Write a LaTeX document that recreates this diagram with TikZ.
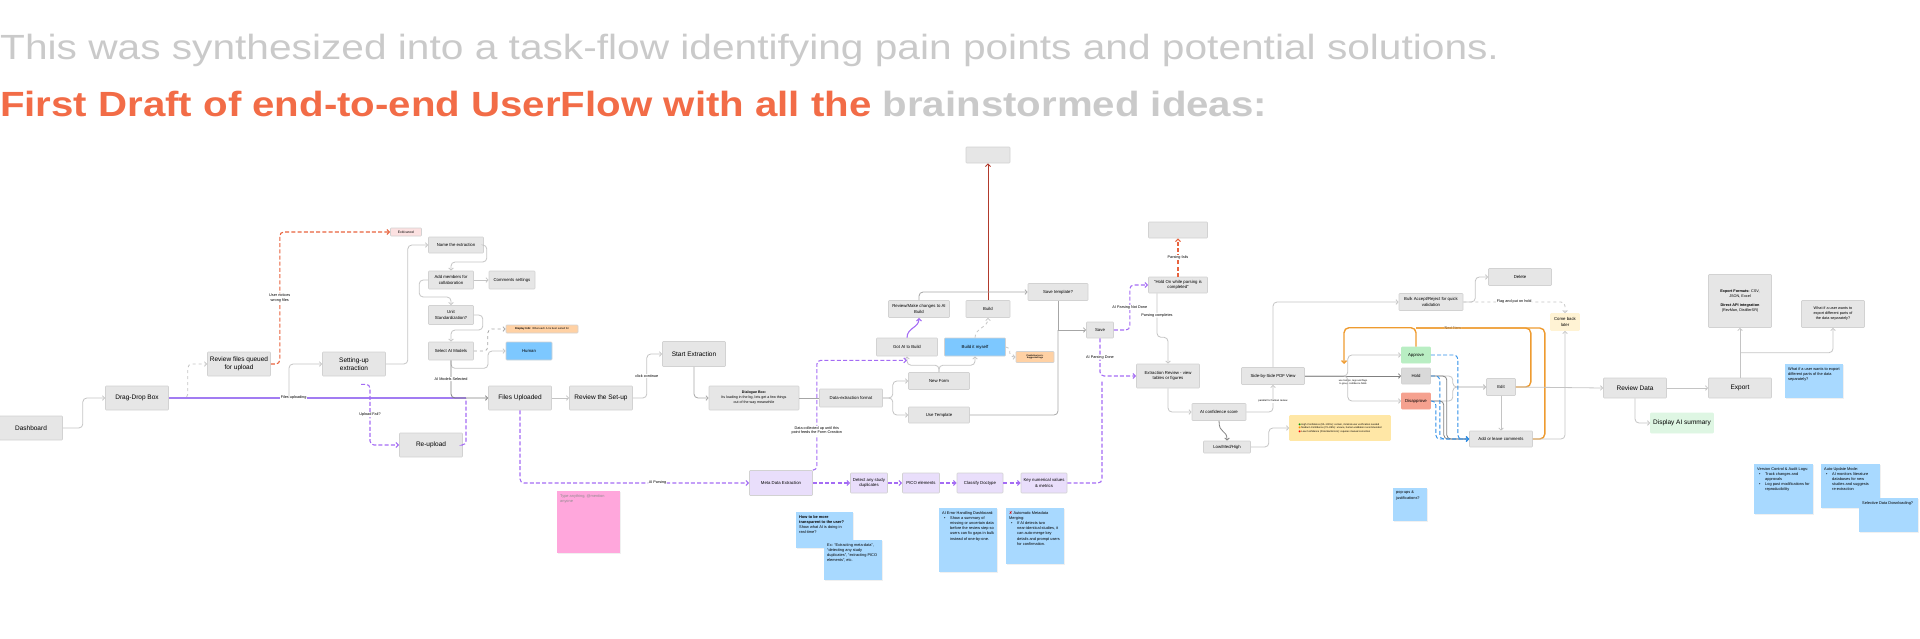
\documentclass[tikz,border=0pt]{standalone}
\usepackage{fontspec}
\usepackage{graphicx}
\setmainfont{Liberation Sans}
\newfontfamily\symbolfont{DejaVu Sans}
\usetikzlibrary{arrows.meta,shadows}

\definecolor{boxgray}{HTML}{E6E6E6}
\definecolor{boxedge}{HTML}{D2D2D2}
\definecolor{wire}{HTML}{C4C4C4}
\definecolor{midwire}{HTML}{A6A6A6}
\definecolor{darkwire}{HTML}{808080}
\definecolor{parse}{HTML}{A46CF4}
\definecolor{uploadpurple}{HTML}{A27CF2}
\definecolor{cancelred}{HTML}{E8633E}
\definecolor{failred}{HTML}{B23A2C}
\definecolor{headorange}{HTML}{F26C47}
\definecolor{headgray}{HTML}{CACACA}
\definecolor{noteblue}{HTML}{A8D9FF}
\definecolor{notepink}{HTML}{FFA7DC}
\definecolor{lavender}{HTML}{E9DEFB}
\definecolor{userblue}{HTML}{7DC8FF}
\definecolor{peach}{HTML}{FFD1A4}
\definecolor{exitpink}{HTML}{FCE1E1}
\definecolor{legendyellow}{HTML}{FFE7A6}
\definecolor{lateryellow}{HTML}{FFF3D4}
\definecolor{okgreen}{HTML}{B9EEC3}
\definecolor{nored}{HTML}{F5A18F}
\definecolor{summarygreen}{HTML}{DEF6E3}
\definecolor{holdgray}{HTML}{D9D9D9}
\definecolor{nextorange}{HTML}{EE9B30}
\definecolor{checkblue}{HTML}{2E8FE8}

\newcommand{\notetext}[3]{\parbox[t][#2][t]{#1}{\raggedright #3}}
\newcommand{\noteitem}[1]{\par\hangindent=8pt\hangafter=1\noindent\hspace*{2pt}\makebox[6pt][l]{\textbullet}#1\par}

\begin{document}
\begin{tikzpicture}[x=1pt,y=-1pt,
  box/.style={draw=boxedge,fill=boxgray,line width=0.6pt,rounded corners=0.8pt,align=center,inner sep=1pt,font=\fontsize{4.3}{5.2}\selectfont},
  sz/.style 2 args={minimum width=#1,minimum height=#2},
  bigbox/.style={box,sz={63pt}{24pt},font=\fontsize{6.5}{8}\selectfont},
  note/.style={anchor=north west,inner sep=3pt,font=\fontsize{3.9}{5.2}\selectfont,drop shadow={opacity=0.12,shadow xshift=0.4pt,shadow yshift=-0.8pt}},
  wirelbl/.style={fill=white,inner sep=0.6pt,align=center,font=\fontsize{3.8}{4.6}\selectfont},
  flow/.style={draw=wire,line width=0.8pt,rounded corners=4pt,-{Straight Barb[length=2.2pt,width=4.5pt]}},
  midflow/.style={flow,draw=midwire},
  darkflow/.style={flow,draw=darkwire},
  parsing/.style={draw=parse,line width=1.1pt,dash pattern=on 4pt off 2.2pt,rounded corners=4pt,-{Straight Barb[length=2.5pt,width=5pt]}},
  cancel/.style={parsing,draw=cancelred},
  recheck/.style={parsing,draw=checkblue,line width=0.9pt},
  nextline/.style={draw=nextorange,line width=1.4pt,rounded corners=5pt}
]
  \useasboundingbox (0,0) rectangle (1920,638);

  % heading
  \node[anchor=base west,inner sep=0pt,text=headgray,font=\fontsize{35}{40}\selectfont] (intro) at (0,59) {\scalebox{1.162}[1]{This was synthesized into a task-flow identifying pain points and potential solutions.}};
  \node[anchor=base west,inner sep=0pt,text=headgray,font=\bfseries\fontsize{35}{40}\selectfont] (heading) at (0,116) {\scalebox{1.149}[1]{\textcolor{headorange}{First Draft of end-to-end UserFlow with all the} brainstormed ideas:}};

  % upload and set-up
  \node[bigbox] (dashboard) at (31,428) {Dashboard};
  \node[bigbox] (dropbox) at (137,398) {Drag-Drop Box};
  \node[bigbox] (queued) at (239,364) {Review files queued\\for upload};
  \node[box,sz={31pt}{8pt},fill=exitpink,font=\fontsize{3.4}{4}\selectfont] (exit) at (406,232) {Exit/cancel};
  \node[bigbox] (setup) at (354,364) {Setting-up\\extraction};
  \node[bigbox] (uploaded) at (520,398) {Files Uploaded};
  \node[bigbox] (reupload) at (431,445) {Re-upload};
  \node[box,sz={55pt}{16pt}] (naming) at (456,245) {Name the extraction};
  \node[box,sz={45pt}{18pt}] (members) at (451,280) {Add members for\\collaboration};
  \node[box,sz={46pt}{18pt}] (comments) at (512,280) {Comments settings};
  \node[box,sz={45pt}{19pt}] (units) at (451,315) {Unit\\Standardization?};
  \node[box,sz={45pt}{18pt}] (models) at (451,351) {Select AI Models};
  \node[box,sz={72pt}{8pt},fill=peach,font=\fontsize{2.7}{3.2}\selectfont] (modelinfo) at (542,329) {\textbf{Display Info:} What each AI is best suited for};
  \node[box,sz={46pt}{18pt},fill=userblue] (human) at (529,351) {Human};
  \node[bigbox] (setreview) at (601,398) {Review the Set-up};
  \node[bigbox,sz={63pt}{25pt}] (start) at (694,354) {Start Extraction};
  \node[box,sz={90pt}{24pt},font=\fontsize{3.6}{5}\selectfont] (dialog) at (754,398) {\textbf{Dialogue Box:}\\Its loading in the bg, lets get a few things\\out of the way meanwhile};

  % form creation
  \node[box,sz={63pt}{18pt}] (format) at (851,398) {Data-extraction format};
  \node[box,sz={61pt}{17pt}] (newform) at (939,381) {New Form};
  \node[box,sz={61pt}{16pt}] (usetpl) at (939,415) {Use Template};
  \node[box,sz={61pt}{18pt}] (gotai) at (907,347) {Got AI to Build};
  \node[box,sz={61pt}{18pt},fill=userblue] (myself) at (975,347) {Build it myself};
  \node[box,sz={61pt}{17pt}] (reviewai) at (919,309) {Review/Make changes to AI\\Build};
  \node[box,sz={44pt}{17pt}] (build) at (988,309) {Build};
  \node[box,sz={44pt}{16pt}] (topbox) at (988,155) {};
  \node[box,sz={38pt}{11pt},fill=peach,font=\bfseries\fontsize{2.2}{2.8}\selectfont] (predict) at (1035,357) {Predictive text +\\Suggested tags};
  \node[box,sz={60pt}{17pt}] (savetpl) at (1058,292) {Save template?};
  \node[box,sz={27pt}{16pt}] (save) at (1100,330) {Save};
  \node[box,sz={59pt}{16pt}] (holdon) at (1178,285) {"Hold On while parsing is\\completed"};
  \node[box,sz={59pt}{16pt}] (failbox) at (1178,230) {};

  % parsing
  \node[box,sz={63pt}{25pt},fill=lavender] (meta) at (781,483) {Meta Data Extraction};
  \node[box,sz={37pt}{20pt},fill=lavender] (detect) at (869,483) {Detect any study\\duplicates};
  \node[box,sz={37pt}{20pt},fill=lavender] (pico) at (921,483) {PICO elements};
  \node[box,sz={46pt}{20pt},fill=lavender] (classify) at (980,483) {Classify Doctype};
  \node[box,sz={46pt}{20pt},fill=lavender] (keyval) at (1044,483) {Key numerical values\\\& metrics};

  % review
  \node[box,sz={63pt}{24pt}] (extreview) at (1168,376) {Extraction Review - view\\tables or figures};
  \node[box,sz={54pt}{17pt}] (confidence) at (1219,412) {AI confidence score};
  \node[box,sz={47pt}{12pt}] (lmh) at (1227,447) {Low/Med/High};
  \node[box,sz={101pt}{25pt},fill=legendyellow,draw=legendyellow,align=left,font=\fontsize{2.5}{3.6}\selectfont] (legend) at (1340,428) {{\symbolfont\textcolor{green!60!black}{●}} High Confidence (90--100\%): certain, minimal user verification needed\\{\symbolfont\textcolor{orange!90!yellow}{●}} Medium Confidence (70--89\%): unsure, human validation recommended\\{\symbolfont\textcolor{red}{●}} Low Confidence (Potential Errors): requires manual correction};
  \node[box,sz={63pt}{17pt}] (sidebyside) at (1273,376) {Side-by-Side PDF View};
  \node[box,sz={64pt}{17pt}] (bulk) at (1431,302) {Bulk Accept/Reject for quick\\validation};
  \node[box,sz={63pt}{17pt}] (delete) at (1520,277) {Delete};
  \node[box,sz={29pt}{17pt},fill=lateryellow,draw=lateryellow] (later) at (1565,322) {Come back\\later};
  \node[box,sz={29pt}{16pt},fill=okgreen,draw=okgreen] (approve) at (1416,355) {Approve};
  \node[box,sz={29pt}{16pt},fill=holdgray] (hold) at (1416,376) {Hold};
  \node[box,sz={29pt}{16pt},fill=nored,draw=nored] (disapprove) at (1416,401) {Disapprove};
  \node[box,sz={29pt}{17pt}] (edit) at (1501,387) {Edit};
  \node[box,sz={63pt}{16pt}] (addcomm) at (1501,439) {Add or leave comments};

  % output
  \node[bigbox,sz={63pt}{20pt}] (reviewdata) at (1635,388) {Review Data};
  \node[bigbox,sz={63pt}{20pt}] (export) at (1740,388) {Export};
  \node[bigbox,sz={63pt}{20pt},fill=summarygreen,draw=summarygreen] (summary) at (1682,423) {Display AI summary};
  \node[box,sz={63pt}{53pt},font=\fontsize{3.8}{5}\selectfont] (formats) at (1740,301) {\textbf{Export Formats:} CSV,\\JSON, Excel\\[4pt]\textbf{Direct API integration}\\(RevMan, DistillerSR)};
  \node[box,sz={63pt}{27pt},font=\fontsize{3.8}{5}\selectfont] (whatif) at (1833,314) {What if a user wants to\\export different parts of\\the data separately?};

  % sticky notes
  \node[note,fill=notepink,text=black!45] (pinknote) at (557,491) {\notetext{57pt}{56pt}{Type anything, @mention anyone}};
  \node[note,fill=noteblue] (transparency) at (796,512) {\notetext{51pt}{30pt}{\textbf{How to be more transparent to the user?} Show what AI is doing in real-time?}};
  \node[note,fill=noteblue] (examples) at (824,540) {\notetext{52pt}{34pt}{Ex: “Extracting meta-data”, “detecting any study duplicates”, “extracting PICO elements”, etc.}};
  \node[note,fill=noteblue] (errdash) at (939,508) {\notetext{52pt}{58pt}{AI Error Handling Dashboard:\noteitem{Show a summary of missing or uncertain data before the review step so users can fix gaps in bulk instead of one-by-one.}}};
  \node[note,fill=noteblue] (merging) at (1006,508) {\notetext{52pt}{50pt}{{\symbolfont\textcolor{red!85!black}{✘}} Automatic Metadata Merging:\noteitem{If AI detects two near-identical studies, it can auto-merge key details and prompt users for confirmation.}}};
  \node[note,fill=noteblue] (popups) at (1393,488) {\notetext{28pt}{27pt}{pop-ups \& justifications?}};
  \node[note,fill=noteblue] (splitnote) at (1785,364) {\notetext{52pt}{28pt}{What if a user wants to export different parts of the data separately?}};
  \node[note,fill=noteblue] (versions) at (1754,464) {\notetext{53pt}{44pt}{Version Control \& Audit Logs:\noteitem{Track changes and approvals}\noteitem{Log past modifications for reproducibility}}};
  \node[note,fill=noteblue] (autoupdate) at (1821,464) {\notetext{53pt}{38pt}{Auto-Update Mode:\noteitem{AI monitors literature databases for new studies and suggests re-extraction}}};
  \node[note,fill=noteblue] (selective) at (1859,498) {\notetext{53pt}{28pt}{Selective Data Downloading?}};

  % junction points
  \coordinate (uptap) at (289,398);
  \coordinate (upjoin) at (466,398);
  \coordinate (savejoin) at (1058,330);
  \coordinate (parsejoin) at (1102,380);
  \coordinate (nextin) at (1344,364);
  \coordinate (nexttop) at (1416,328);

  % connectors: upload
  \draw[flow] (dashboard.east) -- ++(20,0) |- (dropbox.west);
  \draw[flow,dashed] (dropbox.east) -- ++(19,0) |- (queued.west);
  \draw[draw=uploadpurple,line width=1.1pt] (dropbox.east) -- node[wirelbl,pos=0.42]{Files uploading} (upjoin);
  \draw[cancel] (queued.east) -- ++(9,0) |- node[wirelbl,pos=0.25]{User notices\\wrong files} (exit.west);
  \draw[flow] (uptap) |- (setup.west);
  \draw[parsing] (setup.south) ++(7,8) -- ++(9,0) |- node[wirelbl,pos=0.25]{Upload Fail?} (reupload.west);
  \draw[parsing,-] (reupload.east) -| (upjoin);
  \draw[flow] (setup.east) -- ++(22,0) |- (naming.west);
  \draw[flow] (naming.east) -- ++(3,0) -- ++(0,17) -| (members.north);
  \draw[flow] (members.east) -- (comments.west);
  \draw[flow] (members.west) -- ++(-9,0) -- ++(0,17) -| (units.north);
  \draw[flow] (units.east) -- ++(9,0) -- ++(0,15) -| (models.north);
  \draw[midflow,dashed] (models.east) -- ++(14,0) |- (modelinfo.west);
  \draw[flow] (models.south) -- ++(0,8) -- ++(37,0) |- (human.west);
  \draw[darkflow] (models.south) |- node[wirelbl,pos=0.25]{AI Models Selected} (uploaded.west);
  \draw[flow] (uploaded.east) -- (setreview.west);
  \draw[flow] (setreview.east) -- ++(14,0) |- node[wirelbl,pos=0.25]{click continue} (start.west);
  \draw[midflow] (start.south) |- (dialog.west);
  \draw[midflow,-] (dialog.east) -- (format.west);

  % connectors: form creation
  \draw[flow] (format.east) -- ++(10,0) |- (newform.west);
  \draw[flow] (format.east) -- ++(10,0) |- (usetpl.west);
  \draw[flow] (newform.north) -- ++(0,-7) -| (gotai.south);
  \draw[flow] (newform.north) -- ++(0,-7) -| (myself.south);
  \draw[draw=parse,line width=1.1pt,-{Straight Barb[length=2.5pt,width=5pt]}] (gotai.north) .. controls +(0,-10) and +(0,10) .. (reviewai.south);
  \draw[flow,dashed] (myself.north) .. controls +(0,-10) and +(0,10) .. (build.south);
  \draw[flow,dashed] (myself.east) -- ++(4,0) |- (predict.west);
  \draw[draw=failred,line width=1pt,-{Straight Barb[length=2.5pt,width=5pt]}] (build.north) -- (topbox.south);
  \draw[midflow] (reviewai.north) |- (savetpl.west);
  \draw[midflow,-] (savetpl.south) -- (savejoin);
  \draw[midflow,-] (usetpl.east) -| (savejoin);
  \draw[midflow] (savejoin) -- (save.west);
  \draw[parsing] (save.east) -- ++(16,0) |- node[wirelbl,pos=0.25]{AI Parsing Not Done} (holdon.west);
  \draw[cancel] (holdon.north) -- node[wirelbl]{Parsing fails} (failbox.south);
  \draw[flow] ([xshift=-21pt]holdon.south) -- node[wirelbl]{Parsing completes} ++(0,44) -| (extreview.north);
  \draw[parsing] (save.south) |- node[wirelbl,pos=0.25]{AI Parsing Done} (extreview.west);

  % connectors: parsing
  \draw[parsing] (uploaded.south) |- node[wirelbl,pos=0.8]{AI Parsing} (meta.west);
  \draw[parsing] (meta.north east) -- ++(4,0) |- node[wirelbl,pos=0.18]{Data collected up until this\\point feeds the Form Creation} ([yshift=-4pt]gotai.south);
  \draw[parsing] (meta.east) -- (detect.west);
  \draw[parsing] (detect.east) -- (pico.west);
  \draw[parsing] (pico.east) -- (classify.west);
  \draw[parsing] (classify.east) -- (keyval.west);
  \draw[parsing,-] (keyval.east) -| (parsejoin);

  % connectors: review
  \draw[flow] (extreview.south) |- (confidence.west);
  \draw[darkflow,rounded corners=0pt] (confidence.south) .. controls +(0,14) and +(0,-12) .. (lmh.north);
  \draw[flow] (lmh.east) -- ++(18,0) |- (legend.west);
  \draw[flow] (confidence.east) -| node[wirelbl,pos=0.7,font=\fontsize{2.6}{3}\selectfont]{parallel for human review} (sidebyside.south);
  \draw[flow] (sidebyside.north) |- (bulk.west);
  \draw[flow] (bulk.east) -- ++(12,0) |- (delete.west);
  \draw[flow,dashed] (bulk.east) -| node[wirelbl,pos=0.25]{Flag and put on hold} (later.north);
  \draw[flow] (sidebyside.east) -- ++(43,0) |- (approve.west);
  \draw[darkflow] (sidebyside.east) -- node[below=0.5pt,align=center,font=\fontsize{2.4}{3}\selectfont]{use tooltips, tags and flags\\to group confidence fields} (hold.west);
  \draw[flow] (sidebyside.east) -- ++(43,0) |- (disapprove.west);
  \draw[flow] (hold.east) -- ++(22,0) |- (edit.west);
  \draw[flow] (disapprove.east) -- ++(22,0) |- (edit.west);
  \draw[darkflow] (hold.east) -- ++(16,0) |- (addcomm.west);
  \draw[darkflow] (disapprove.east) -- ++(13,0) |- (addcomm.west);
  \draw[recheck] (approve.east) -- ++(27,0) |- (addcomm.west);
  \draw[recheck] (hold.east) -- ++(9,0) |- (addcomm.west);
  \draw[recheck] (disapprove.east) -- ++(5,0) |- (addcomm.west);
  \draw[nextline,-{Straight Barb[length=2.5pt,width=5pt]}] (approve.north) -- ++(0,-19) -| (nextin);
  \draw[nextline] (edit.east) -- ++(15,0) |- node[wirelbl,pos=0.84]{Next Item} (nexttop);
  \draw[nextline] (addcomm.east) -- ++(12,0) |- (nexttop);
  \draw[flow] (edit.south) -- (addcomm.north);
  \draw[flow] (addcomm.east) -| (later.south);

  % connectors: output
  \draw[flow] (edit.east) -- (reviewdata.west);
  \draw[flow] (reviewdata.east) -- (export.west);
  \draw[flow] (reviewdata.south) |- (summary.west);
  \draw[flow] (export.north) -- (formats.south);
  \draw[flow] ([yshift=25pt]export.north) -| (whatif.south);
\end{tikzpicture}
\end{document}
